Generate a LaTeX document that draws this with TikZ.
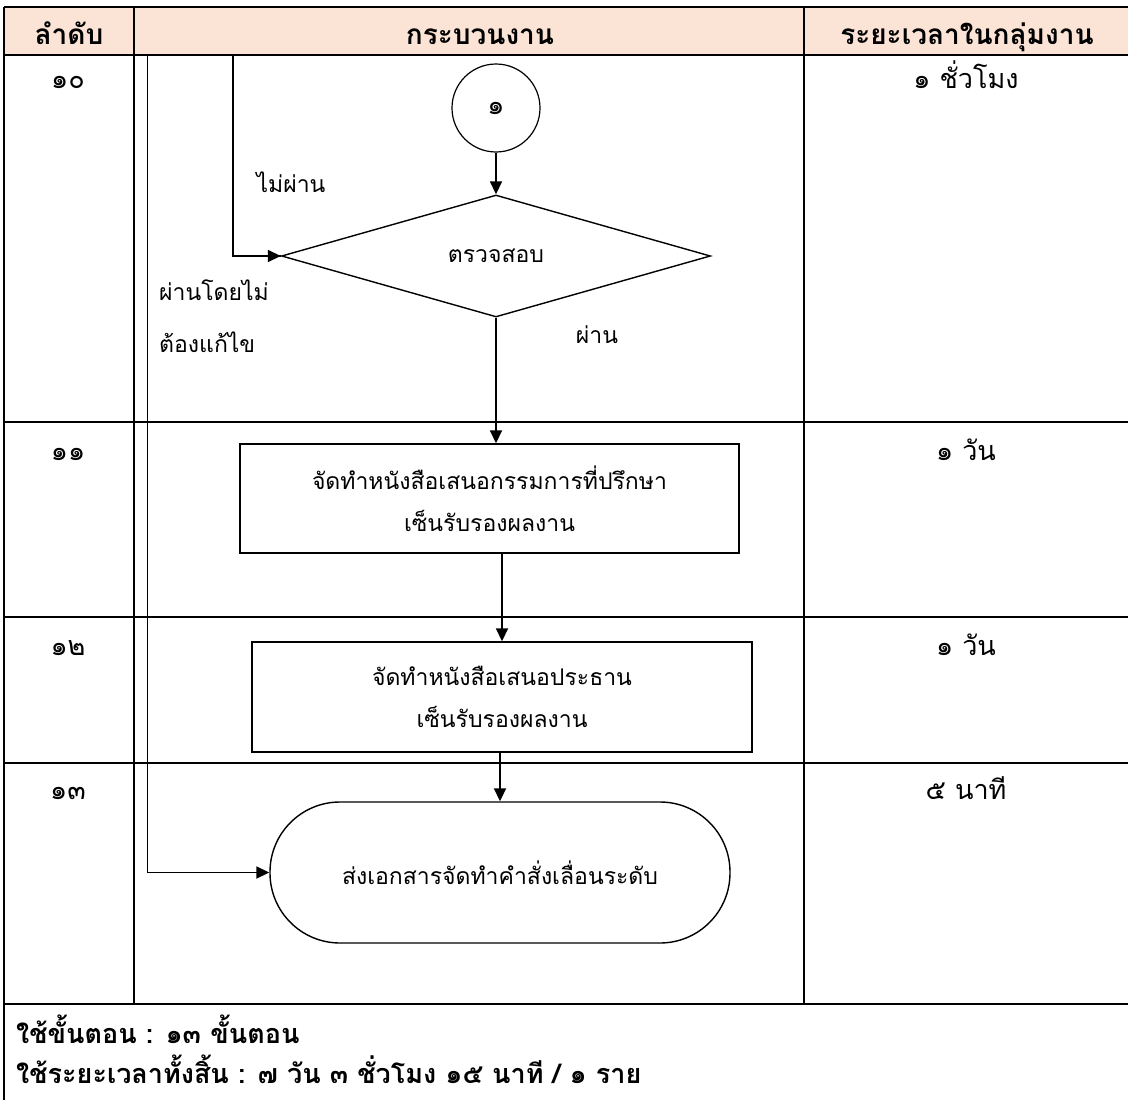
\documentclass[tikz,border=0pt]{standalone}
\usepackage{fontspec}
\usepackage{tikz}
\newfontfamily\thaifont[Script=Thai]{Loma}
\definecolor{peachish}{RGB}{251, 228, 213}
\usetikzlibrary{arrows.meta,shapes.geometric}
\tikzset{
  cellnode/.style = {align=center, inner sep=0pt, text centered,
    font=\thaifont\fontsize{27}{32}\selectfont},
  flowtext/.style = {cellnode, font=\thaifont\fontsize{23}{42}\selectfont},
  headnode/.style = {cellnode, anchor=base, font=\thaifont\bfseries\fontsize{28}{32}\selectfont},% hlavicka tabulky
  footnode/.style = {cellnode, anchor=base west, font=\thaifont\bfseries\fontsize{27}{31}\selectfont},
  procbox/.style = {flowtext, draw, line width=1.4pt, rectangle},% krok procesu
  checknode/.style = {flowtext, draw, line width=1.4pt, diamond},
  connnode/.style = {cellnode, draw, line width=1.2pt, circle, minimum size=88pt},
  endnode/.style = {flowtext, draw, line width=1.4pt, rectangle, rounded corners=70pt},
  flowarrow/.style = {-{Triangle[length=13pt,width=12pt]}, line width=1.8pt},
  gridline/.style = {line width=2pt},
}

\begin{document}
\begin{tikzpicture}[x=1pt, y=-1pt]
\useasboundingbox (0,0) rectangle (1128,1100);
% table
\fill[peachish] (4,7) rectangle (1128,55);
\foreach \yy in {7,55,422,617,763,1004}
  \draw[gridline] (4,\yy) -- (1128,\yy);
\draw[gridline] (4,7) -- (4,1100);
\draw[gridline] (134,7) -- (134,1004);
\draw[gridline] (804,7) -- (804,1004);

\node [headnode] (hdrOrder) at (69,45) {ลำดับ};
\node [headnode] (hdrProc) at (480,45) {กระบวนงาน};
\node [headnode] (hdrTime) at (967,45) {ระยะเวลาในกลุ่มงาน};

\node [cellnode, anchor=base] (ord10) at (68,88) {๑๐};
\node [cellnode, anchor=base] (ord11) at (68,460) {๑๑};
\node [cellnode, anchor=base] (ord12) at (68,655) {๑๒};
\node [cellnode, anchor=base] (ord13) at (68,799) {๑๓};
\node [cellnode, anchor=base] (time10) at (966,88) {๑ ชั่วโมง};
\node [cellnode, anchor=base] (time11) at (966,460) {๑ วัน};
\node [cellnode, anchor=base] (time12) at (966,655) {๑ วัน};
\node [cellnode, anchor=base] (time13) at (966,799) {๕ นาที};

% flow
\node [connnode] (conn1) at (496,108) {๑};
\node [checknode, minimum width=429pt, minimum height=122pt] (check) at (496,256) {ตรวจสอบ};
\node [procbox, minimum width=499pt, minimum height=109pt] (doc1) at (489.5,498.5)
  {จัดทำหนังสือเสนอกรรมการที่ปรึกษา\\เซ็นรับรองผลงาน};
\node [procbox, minimum width=500pt, minimum height=110pt] (doc2) at (502,697)
  {จัดทำหนังสือเสนอประธาน\\เซ็นรับรองผลงาน};
\node [endnode, minimum width=460pt, minimum height=141pt] (sendDoc) at (500,872.5)
  {ส่งเอกสารจัดทำคำสั่งเลื่อนระดับ};

\node [flowtext, anchor=base] (lblFail) at (291,192) {ไม่ผ่าน};
\node [flowtext, anchor=base west] (lblNoFix) at (159,300) {ผ่านโดยไม่};
\node [flowtext, anchor=base west] (lblNoFix2) at (159,352) {ต้องแก้ไข};
\node [flowtext, anchor=base] (lblPass) at (597,343) {ผ่าน};

\coordinate (failTop) at (233,55);
\coordinate (skipTop) at (147,55);

\draw[flowarrow] (conn1) -- (check);
\draw[flowarrow] (check) -- (check |- doc1.north);
\draw[flowarrow] (doc2.north |- doc1.south) -- (doc2.north);
\draw[flowarrow] (sendDoc.north |- doc2.south) -- (sendDoc.north);
\draw[line width=1.4pt] (failTop) |- (check.west);
\draw[flowarrow] (failTop |- check.west) -- (check.west);
\draw[line width=1pt] (skipTop) -- (skipTop |- sendDoc.west);
\draw[flowarrow] (skipTop |- sendDoc.west) -- (sendDoc.west);

% footer
\node [footnode] (footSteps) at (16,1043) {ใช้ขั้นตอน : ๑๓ ขั้นตอน};
\node [footnode] (footTime) at (16,1083) {ใช้ระยะเวลาทั้งสิ้น : ๗ วัน ๓ ชั่วโมง ๑๕ นาที / ๑ ราย};
\end{tikzpicture}
\end{document}
